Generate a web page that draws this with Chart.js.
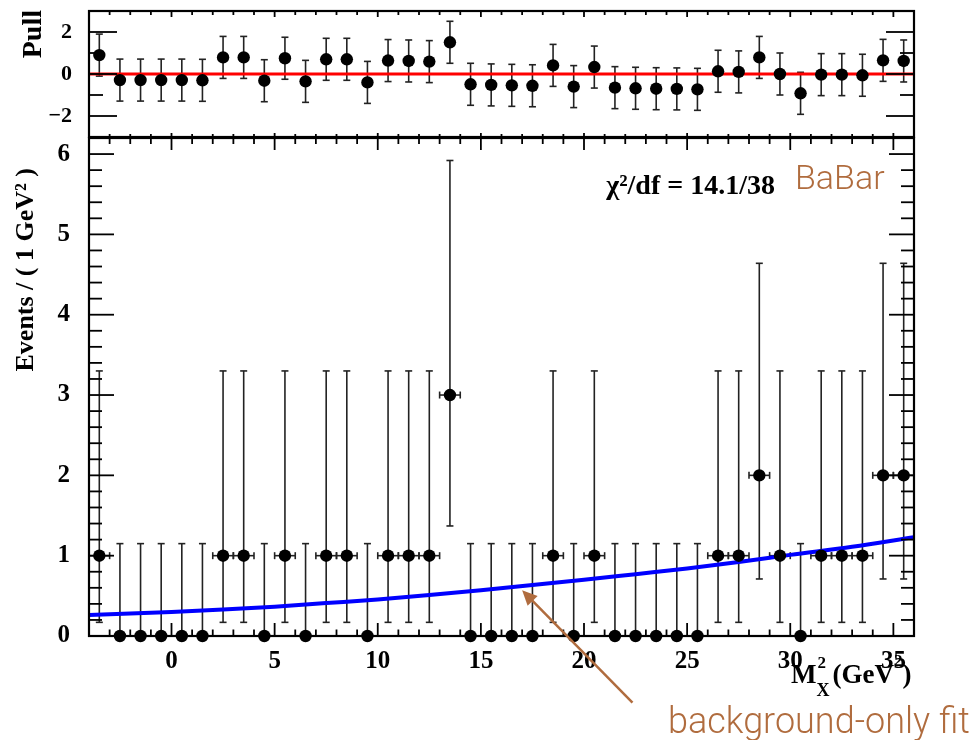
<!DOCTYPE html>
<html><head><meta charset="utf-8">
<script src="https://cdn.jsdelivr.net/npm/chart.js@4.4.0/dist/chart.umd.min.js"></script>
<style>
html,body{margin:0;padding:0;background:#fff;}
#wrap{position:relative;width:977px;height:740px;overflow:hidden;}
canvas{position:absolute;left:0;top:0;}
</style></head><body>
<div id="wrap"><canvas id="main" width="977" height="740"></canvas><canvas id="pull" width="977" height="740"></canvas></div>
<script>
// ---------- data ----------
const binCenters = [-3.5,-2.5,-1.5,-0.5,0.5,1.5,2.5,3.5,4.5,5.5,6.5,7.5,8.5,9.5,10.5,11.5,12.5,13.5,14.5,15.5,16.5,17.5,18.5,19.5,20.5,21.5,22.5,23.5,24.5,25.5,26.5,27.5,28.5,29.5,30.5,31.5,32.5,33.5,34.5,35.5];
const counts     = [1,0,0,0,0,0,1,1,0,1,0,1,1,0,1,1,1,3,0,0,0,0,1,0,1,0,0,0,0,0,1,1,2,1,0,1,1,1,2,2];
const errLow     = [0.83,0,0,0,0,0,0.83,0.83,0,0.83,0,0.83,0.83,0,0.83,0.83,0.83,1.63,0,0,0,0,0.83,0,0.83,0,0,0,0,0,0.83,0.83,1.29,0.83,0,0.83,0.83,0.83,1.29,1.29];
const errHigh    = [2.30,1.15,1.15,1.15,1.15,1.15,2.30,2.30,1.15,2.30,1.15,2.30,2.30,1.15,2.30,2.30,2.30,2.92,1.15,1.15,1.15,1.15,2.30,1.15,2.30,1.15,1.15,1.15,1.15,1.15,2.30,2.30,2.64,2.30,1.15,2.30,2.30,2.30,2.64,2.64];
const binHalfWidth = 0.5;
const pulls      = [0.90,-0.29,-0.29,-0.29,-0.29,-0.30,0.79,0.79,-0.32,0.75,-0.35,0.70,0.70,-0.40,0.64,0.62,0.59,1.51,-0.49,-0.52,-0.54,-0.56,0.41,-0.60,0.33,-0.65,-0.68,-0.70,-0.71,-0.73,0.13,0.10,0.79,0.00,-0.92,-0.03,-0.03,-0.06,0.65,0.62];
const pullErr    = [1,1,1,1,1,1,1,1,1,1,1,1,1,1,1,1,1,1,1,1,1,1,1,1,1,1,1,1,1,1,1,1,1,1,1,1,1,1,1,1];
const fitX = [-4,-2,0,2.5,5,7.5,10,12.5,15,17.5,20,22.5,25,27.5,30,33,36];
const fitY = [0.26,0.28,0.30,0.33,0.365,0.41,0.455,0.51,0.57,0.635,0.70,0.77,0.84,0.92,1.01,1.11,1.23];
const xTicks = [0,5,10,15,20,25,30,35];
const mainYTicks = [0,1,2,3,4,5,6];
const pullYTicks = [-2,0,2];
const X_MIN = -4, X_MAX = 36, Y_MIN = 0, Y_MAX = 6.2, PULL_MIN = -3, PULL_MAX = 3;
const chiText = "\u03C7\u00B2/df = 14.1/38";
const expText = "BaBar";
const noteText = "background-only fit";
const arrowTip = {x:17.0, y:0.57}, arrowTail = {x:22.35, y:-0.83};

// ---------- styling ----------
const SERIF = "'Liberation Serif','Times New Roman',serif";
const SANS = "Roboto,'Liberation Sans',Arial,sans-serif";
const BROWN = '#b06c3e';
const ERR = '#222';

function line(ctx,x1,y1,x2,y2){ctx.beginPath();ctx.moveTo(x1,y1);ctx.lineTo(x2,y2);ctx.stroke();}

function xMinorTicks(ctx, xs, yEdge, dir, lenMaj, lenMin){
  for(let v=Math.ceil(X_MIN)+1; v<X_MAX; v++){
    const px = xs.getPixelForValue(v);
    const maj = xTicks.includes(v);
    line(ctx,px,yEdge,px,yEdge+dir*(maj?lenMaj:lenMin));
  }
}

const mainPlugin = {
  id:'mainDecor',
  beforeDatasetsDraw(chart){
    const ctx=chart.ctx, xs=chart.scales.x, ys=chart.scales.y;
    ctx.save();
    ctx.strokeStyle=ERR; ctx.lineWidth=1.6;
    binCenters.forEach((c,i)=>{
      const px=xs.getPixelForValue(c);
      const yTop=ys.getPixelForValue(counts[i]+errHigh[i]);
      const yBot=ys.getPixelForValue(counts[i]-errLow[i]);
      const py=ys.getPixelForValue(counts[i]);
      line(ctx,px,yTop,px,yBot);
      line(ctx,px-3.5,yTop,px+3.5,yTop);
      if(errLow[i]>0) line(ctx,px-3.5,yBot,px+3.5,yBot);
      if(counts[i]>0){
        const xl=xs.getPixelForValue(c-binHalfWidth), xr=xs.getPixelForValue(c+binHalfWidth);
        line(ctx,xl,py,xr,py);
        line(ctx,xl,py-3.5,xl,py+3.5);
        line(ctx,xr,py-3.5,xr,py+3.5);
      }
    });
    ctx.restore();
  },
  afterDraw(chart){
    const ctx=chart.ctx, xs=chart.scales.x, ys=chart.scales.y;
    const {left,right,top,bottom}=chart.chartArea;
    ctx.save();
    ctx.strokeStyle='#000';
    ctx.lineWidth=1.8;
    xMinorTicks(ctx,xs,bottom,-1,13,6.5);
    xMinorTicks(ctx,xs,top,1,12,6);
    for(let k=1;k<=Math.floor(Y_MAX*5+1e-6);k++){
      const v=k/5, py=ys.getPixelForValue(v), maj=(k%5===0);
      line(ctx,left,py,left+(maj?25:13),py);
      line(ctx,right,py,right-(maj?25:13),py);
    }
    ctx.lineWidth=2.2;
    ctx.strokeRect(left,top,right-left,bottom-top);

    // y title
    ctx.fillStyle='#000';
    ctx.save();
    ctx.translate(26,168); ctx.rotate(-Math.PI/2);
    ctx.font="bold 26px "+SERIF; ctx.textAlign='right'; ctx.textBaseline='middle';
    ctx.fillText("Events / ( 1 GeV\u00B2 )",0,0);
    ctx.restore();

    // x title  M^2_X (GeV^2)
    ctx.textBaseline='alphabetic'; ctx.textAlign='left';
    let x=791; const base=683;
    ctx.font="bold 27px "+SERIF; ctx.fillText("M",x,base); x+=ctx.measureText("M").width;
    ctx.font="bold 17px "+SERIF; ctx.fillText("2",x+1,668);
    ctx.font="bold 18px "+SERIF; ctx.fillText("X",x,696); x+=ctx.measureText("X").width+3;
    ctx.font="bold 27px "+SERIF; ctx.fillText("(GeV",x,base); x+=ctx.measureText("(GeV").width;
    ctx.font="bold 17px "+SERIF; ctx.fillText("2",x,666); x+=ctx.measureText("2").width;
    ctx.font="bold 27px "+SERIF; ctx.fillText(")",x,base);

    // chi2 label
    ctx.font="bold 28px "+SERIF; ctx.textAlign='right';
    ctx.fillText(chiText,775,194);

    // BaBar
    ctx.fillStyle=BROWN; ctx.textAlign='left';
    ctx.font="300 34px "+SANS;
    ctx.fillText(expText,795,189);

    // annotation
    ctx.font="300 36px "+SANS;
    ctx.fillText(noteText,668,733);

    const tx=xs.getPixelForValue(arrowTip.x), ty=ys.getPixelForValue(arrowTip.y);
    const sx=xs.getPixelForValue(arrowTail.x), sy=ys.getPixelForValue(arrowTail.y);
    const ang=Math.atan2(ty-sy,tx-sx);
    ctx.strokeStyle=BROWN; ctx.lineWidth=2.5;
    line(ctx,sx,sy,tx-10*Math.cos(ang),ty-10*Math.sin(ang));
    ctx.beginPath();
    ctx.moveTo(tx,ty);
    ctx.lineTo(tx-15*Math.cos(ang)+7*Math.sin(ang), ty-15*Math.sin(ang)-7*Math.cos(ang));
    ctx.lineTo(tx-15*Math.cos(ang)-7*Math.sin(ang), ty-15*Math.sin(ang)+7*Math.cos(ang));
    ctx.closePath(); ctx.fill();
    ctx.restore();
  }
};

const pullPlugin = {
  id:'pullDecor',
  beforeDatasetsDraw(chart){
    const ctx=chart.ctx, xs=chart.scales.x, ys=chart.scales.y;
    ctx.save();
    ctx.strokeStyle=ERR; ctx.lineWidth=1.6;
    binCenters.forEach((c,i)=>{
      const px=xs.getPixelForValue(c);
      const y1=ys.getPixelForValue(pulls[i]+pullErr[i]);
      const y2=ys.getPixelForValue(pulls[i]-pullErr[i]);
      line(ctx,px,y1,px,y2);
      line(ctx,px-3.5,y1,px+3.5,y1);
      line(ctx,px-3.5,y2,px+3.5,y2);
    });
    ctx.restore();
  },
  afterDraw(chart){
    const ctx=chart.ctx, xs=chart.scales.x, ys=chart.scales.y;
    const {left,right,top,bottom}=chart.chartArea;
    ctx.save();
    ctx.strokeStyle='#000'; ctx.lineWidth=1.8;
    xMinorTicks(ctx,xs,top,1,6,4);
    xMinorTicks(ctx,xs,bottom,-1,4,3);
    for(let v=PULL_MIN+1; v<PULL_MAX; v++){
      const py=ys.getPixelForValue(v), maj=pullYTicks.includes(v);
      line(ctx,left,py,left+(maj?28:14),py);
      line(ctx,right,py,right-(maj?28:14),py);
    }
    ctx.lineWidth=2.2;
    ctx.strokeRect(left,top,right-left,bottom-top);
    ctx.fillStyle='#000';
    ctx.translate(34,10); ctx.rotate(-Math.PI/2);
    ctx.font="bold 28px "+SERIF; ctx.textAlign='right'; ctx.textBaseline='middle';
    ctx.fillText("Pull",0,0);
    ctx.restore();
  }
};

const common = {
  responsive:false, animation:false, devicePixelRatio:1,
  plugins:{legend:{display:false},tooltip:{enabled:false}}
};

function fixY(s){ s.width=89; s.paddingTop=0; s.paddingBottom=0; }
function fixX(s){ s.height=104; s.paddingLeft=0; s.paddingRight=0; }

new Chart(document.getElementById('main'),{
  type:'scatter',
  data:{datasets:[
    {data:binCenters.map((x,i)=>({x,y:counts[i]})), backgroundColor:'#000', borderWidth:0, pointRadius:6.2, pointHoverRadius:6.2, order:0, clip:false},
    {type:'line', data:fitX.map((x,i)=>({x,y:fitY[i]})), borderColor:'#0000ff', borderWidth:4, pointRadius:0, cubicInterpolationMode:'monotone', fill:false, order:1}
  ]},
  options:Object.assign({},common,{
    layout:{padding:{top:138,right:63,left:0,bottom:0}},
    scales:{
      x:{type:'linear',min:X_MIN,max:X_MAX,grid:{display:false},border:{display:false},
        afterBuildTicks:s=>{s.ticks=xTicks.map(v=>({value:v}));},
        afterFit:fixX,
        ticks:{font:{family:SERIF,weight:'bold',size:25},color:'#000',padding:3,maxRotation:0,autoSkip:false}},
      y:{type:'linear',min:Y_MIN,max:Y_MAX,grid:{display:false},border:{display:false},
        afterBuildTicks:s=>{s.ticks=mainYTicks.map(v=>({value:v}));},
        afterFit:fixY,
        ticks:{font:{family:SERIF,weight:'bold',size:25},color:'#000',padding:11,autoSkip:false}}
    }
  }),
  plugins:[mainPlugin]
});

new Chart(document.getElementById('pull'),{
  type:'scatter',
  data:{datasets:[
    {data:binCenters.map((x,i)=>({x,y:pulls[i]})), backgroundColor:'#000', borderWidth:0, pointRadius:6.2, pointHoverRadius:6.2, order:0, clip:false},
    {type:'line', data:[{x:X_MIN,y:0},{x:X_MAX,y:0}], borderColor:'#ff0000', borderWidth:3, pointRadius:0, fill:false, order:1}
  ]},
  options:Object.assign({},common,{
    layout:{padding:{top:11,right:63,left:0,bottom:603}},
    scales:{
      x:{type:'linear',min:X_MIN,max:X_MAX,display:false},
      y:{type:'linear',min:PULL_MIN,max:PULL_MAX,grid:{display:false},border:{display:false},
        afterBuildTicks:s=>{s.ticks=pullYTicks.map(v=>({value:v}));},
        afterFit:fixY,
        ticks:{font:{family:SERIF,weight:'bold',size:22},color:'#000',padding:9,autoSkip:false,
          callback:v=>v<0?'\u2212'+Math.abs(v):String(v)}}
    }
  }),
  plugins:[pullPlugin]
});
</script>
</body></html>
